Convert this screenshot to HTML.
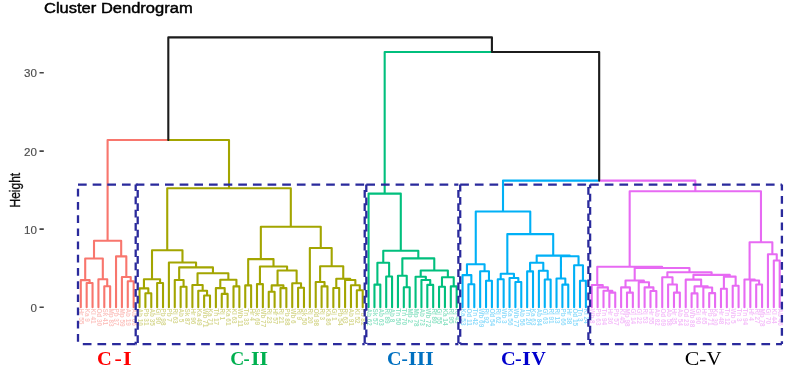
<!DOCTYPE html>
<html><head><meta charset="utf-8"><style>
html,body{margin:0;padding:0;background:#fff;}
body{width:789px;height:370px;overflow:hidden;position:relative;}
svg{position:absolute;left:0;top:0;}
</style></head><body>
<svg width="789" height="370" viewBox="0 0 789 370">
<defs><filter id="bl" x="0" y="0" width="789" height="370" filterUnits="userSpaceOnUse"><feGaussianBlur stdDeviation="0.5"/></filter></defs>
<rect width="789" height="370" fill="#fff"/>
<g filter="url(#bl)">
<text x="44" y="13" transform="translate(44 0) scale(1.14 1) translate(-44 0)" font-family="Liberation Sans, sans-serif" font-size="14.5" fill="#000" stroke="#000" stroke-width="0.45">Cluster Dendrogram</text>
<g font-family="Liberation Sans, sans-serif" font-size="11.6" fill="#4d4d4d" stroke="#4d4d4d" stroke-width="0.15" text-anchor="end">
<text x="37" y="77.4">30</text>
<text x="37" y="155.8">20</text>
<text x="37" y="233.8">10</text>
<text x="37" y="311.9">0</text>
</g>
<g stroke="#444" stroke-width="1.6">
<path d="M39.5 72.7H43.8M39.5 151.1H43.8M39.5 229.1H43.8M39.5 307.2H43.8"/>
</g>
<text transform="translate(19.6 190.2) rotate(-90) scale(1 1.16)" font-family="Liberation Sans, sans-serif" font-size="12" fill="#111" stroke="#111" stroke-width="0.3" text-anchor="middle">Height</text>
<g font-family="Liberation Sans, sans-serif" font-size="6.4" font-weight="bold" opacity="0.42">
<text transform="translate(79.2 308.4) rotate(90)" fill="#F8766D">Hr 55</text>
<text transform="translate(85.07 308.4) rotate(90)" fill="#F8766D">Ka 9</text>
<text transform="translate(90.95 308.4) rotate(90)" fill="#F8766D">Kl 41</text>
<text transform="translate(96.82 308.4) rotate(90)" fill="#F8766D">Od 30</text>
<text transform="translate(102.69 308.4) rotate(90)" fill="#F8766D">Sk 41</text>
<text transform="translate(108.56 308.4) rotate(90)" fill="#F8766D">Mp 83</text>
<text transform="translate(114.44 308.4) rotate(90)" fill="#F8766D">Pb 37</text>
<text transform="translate(120.31 308.4) rotate(90)" fill="#F8766D">Mp 59</text>
<text transform="translate(126.18 308.4) rotate(90)" fill="#F8766D">Ab 19</text>
<text transform="translate(132.06 308.4) rotate(90)" fill="#F8766D">Ab 66</text>
<text transform="translate(137.93 308.4) rotate(90)" fill="#A3A500">Ab 10</text>
<text transform="translate(143.8 308.4) rotate(90)" fill="#A3A500">Pb 31</text>
<text transform="translate(149.68 308.4) rotate(90)" fill="#A3A500">Ab 35</text>
<text transform="translate(155.55 308.4) rotate(90)" fill="#A3A500">Gj 90</text>
<text transform="translate(161.42 308.4) rotate(90)" fill="#A3A500">Pb 98</text>
<text transform="translate(167.29 308.4) rotate(90)" fill="#A3A500">Pb 7</text>
<text transform="translate(173.17 308.4) rotate(90)" fill="#A3A500">Rj 63</text>
<text transform="translate(179.04 308.4) rotate(90)" fill="#A3A500">Ab 5</text>
<text transform="translate(184.91 308.4) rotate(90)" fill="#A3A500">Sk 87</text>
<text transform="translate(190.79 308.4) rotate(90)" fill="#A3A500">Hr 96</text>
<text transform="translate(196.66 308.4) rotate(90)" fill="#A3A500">Ka 49</text>
<text transform="translate(202.53 308.4) rotate(90)" fill="#A3A500">Wb 71</text>
<text transform="translate(208.41 308.4) rotate(90)" fill="#A3A500">Ka 71</text>
<text transform="translate(214.28 308.4) rotate(90)" fill="#A3A500">Tn 17</text>
<text transform="translate(220.15 308.4) rotate(90)" fill="#A3A500">Rj 1</text>
<text transform="translate(226.03 308.4) rotate(90)" fill="#A3A500">Ka 61</text>
<text transform="translate(231.9 308.4) rotate(90)" fill="#A3A500">Kl 63</text>
<text transform="translate(237.77 308.4) rotate(90)" fill="#A3A500">Wb 11</text>
<text transform="translate(243.64 308.4) rotate(90)" fill="#A3A500">Tn 33</text>
<text transform="translate(249.52 308.4) rotate(90)" fill="#A3A500">Hr 4</text>
<text transform="translate(255.39 308.4) rotate(90)" fill="#A3A500">Sk 69</text>
<text transform="translate(261.26 308.4) rotate(90)" fill="#A3A500">Wb 77</text>
<text transform="translate(267.14 308.4) rotate(90)" fill="#A3A500">Rj 23</text>
<text transform="translate(273.01 308.4) rotate(90)" fill="#A3A500">Hr 57</text>
<text transform="translate(278.88 308.4) rotate(90)" fill="#A3A500">Rj 21</text>
<text transform="translate(284.75 308.4) rotate(90)" fill="#A3A500">Pb 88</text>
<text transform="translate(290.63 308.4) rotate(90)" fill="#A3A500">Wb 6</text>
<text transform="translate(296.5 308.4) rotate(90)" fill="#A3A500">Rj 9</text>
<text transform="translate(302.37 308.4) rotate(90)" fill="#A3A500">Sk 50</text>
<text transform="translate(308.25 308.4) rotate(90)" fill="#A3A500">Rj 20</text>
<text transform="translate(314.12 308.4) rotate(90)" fill="#A3A500">Od 98</text>
<text transform="translate(319.99 308.4) rotate(90)" fill="#A3A500">Rj 3</text>
<text transform="translate(325.87 308.4) rotate(90)" fill="#A3A500">Ka 86</text>
<text transform="translate(331.74 308.4) rotate(90)" fill="#A3A500">Gj 1</text>
<text transform="translate(337.61 308.4) rotate(90)" fill="#A3A500">Pb 54</text>
<text transform="translate(343.49 308.4) rotate(90)" fill="#A3A500">Rj 63</text>
<text transform="translate(349.36 308.4) rotate(90)" fill="#A3A500">Ab 91</text>
<text transform="translate(355.23 308.4) rotate(90)" fill="#A3A500">Kl 52</text>
<text transform="translate(361.1 308.4) rotate(90)" fill="#A3A500">Pb 82</text>
<text transform="translate(366.98 308.4) rotate(90)" fill="#00BF7D">Ab 62</text>
<text transform="translate(372.85 308.4) rotate(90)" fill="#00BF7D">Sk 57</text>
<text transform="translate(378.72 308.4) rotate(90)" fill="#00BF7D">Ab 63</text>
<text transform="translate(384.6 308.4) rotate(90)" fill="#00BF7D">Rj 89</text>
<text transform="translate(390.47 308.4) rotate(90)" fill="#00BF7D">Ab 8</text>
<text transform="translate(396.34 308.4) rotate(90)" fill="#00BF7D">Tn 50</text>
<text transform="translate(402.21 308.4) rotate(90)" fill="#00BF7D">Tn 70</text>
<text transform="translate(408.09 308.4) rotate(90)" fill="#00BF7D">Mp 2</text>
<text transform="translate(413.96 308.4) rotate(90)" fill="#00BF7D">Mp 78</text>
<text transform="translate(419.83 308.4) rotate(90)" fill="#00BF7D">Ab 73</text>
<text transform="translate(425.71 308.4) rotate(90)" fill="#00BF7D">Wb 72</text>
<text transform="translate(431.58 308.4) rotate(90)" fill="#00BF7D">Rj 80</text>
<text transform="translate(437.45 308.4) rotate(90)" fill="#00BF7D">Gj 55</text>
<text transform="translate(443.33 308.4) rotate(90)" fill="#00BF7D">Ka 14</text>
<text transform="translate(449.2 308.4) rotate(90)" fill="#00BF7D">Rj 95</text>
<text transform="translate(455.07 308.4) rotate(90)" fill="#00BF7D">Rj 43</text>
<text transform="translate(460.94 308.4) rotate(90)" fill="#00B0F6">Ka 53</text>
<text transform="translate(466.82 308.4) rotate(90)" fill="#00B0F6">Od 11</text>
<text transform="translate(472.69 308.4) rotate(90)" fill="#00B0F6">Tn 42</text>
<text transform="translate(478.56 308.4) rotate(90)" fill="#00B0F6">Wb 69</text>
<text transform="translate(484.44 308.4) rotate(90)" fill="#00B0F6">Rj 92</text>
<text transform="translate(490.31 308.4) rotate(90)" fill="#00B0F6">Od 54</text>
<text transform="translate(496.18 308.4) rotate(90)" fill="#00B0F6">Rj 62</text>
<text transform="translate(502.06 308.4) rotate(90)" fill="#00B0F6">Wb 3</text>
<text transform="translate(507.93 308.4) rotate(90)" fill="#00B0F6">Ka 56</text>
<text transform="translate(513.8 308.4) rotate(90)" fill="#00B0F6">Wb 77</text>
<text transform="translate(519.67 308.4) rotate(90)" fill="#00B0F6">Ab 56</text>
<text transform="translate(525.55 308.4) rotate(90)" fill="#00B0F6">Tn 20</text>
<text transform="translate(531.42 308.4) rotate(90)" fill="#00B0F6">Ka 63</text>
<text transform="translate(537.29 308.4) rotate(90)" fill="#00B0F6">Ab 84</text>
<text transform="translate(543.17 308.4) rotate(90)" fill="#00B0F6">Gj 63</text>
<text transform="translate(549.04 308.4) rotate(90)" fill="#00B0F6">Rj 91</text>
<text transform="translate(554.91 308.4) rotate(90)" fill="#00B0F6">Rj 13</text>
<text transform="translate(560.79 308.4) rotate(90)" fill="#00B0F6">Pb 66</text>
<text transform="translate(566.66 308.4) rotate(90)" fill="#00B0F6">Hr 38</text>
<text transform="translate(572.53 308.4) rotate(90)" fill="#00B0F6">Od 15</text>
<text transform="translate(578.4 308.4) rotate(90)" fill="#00B0F6">Tn 3</text>
<text transform="translate(584.28 308.4) rotate(90)" fill="#00B0F6">Kl 24</text>
<text transform="translate(590.15 308.4) rotate(90)" fill="#E76BF3">Wb 8</text>
<text transform="translate(596.02 308.4) rotate(90)" fill="#E76BF3">Pb 63</text>
<text transform="translate(601.9 308.4) rotate(90)" fill="#E76BF3">Tn 94</text>
<text transform="translate(607.77 308.4) rotate(90)" fill="#E76BF3">Hr 36</text>
<text transform="translate(613.64 308.4) rotate(90)" fill="#E76BF3">Pb 57</text>
<text transform="translate(619.52 308.4) rotate(90)" fill="#E76BF3">Kl 45</text>
<text transform="translate(625.39 308.4) rotate(90)" fill="#E76BF3">Mp 98</text>
<text transform="translate(631.26 308.4) rotate(90)" fill="#E76BF3">Gj 14</text>
<text transform="translate(637.13 308.4) rotate(90)" fill="#E76BF3">Gj 22</text>
<text transform="translate(643.01 308.4) rotate(90)" fill="#E76BF3">Rj 53</text>
<text transform="translate(648.88 308.4) rotate(90)" fill="#E76BF3">Hr 55</text>
<text transform="translate(654.75 308.4) rotate(90)" fill="#E76BF3">Ab 82</text>
<text transform="translate(660.63 308.4) rotate(90)" fill="#E76BF3">Od 69</text>
<text transform="translate(666.5 308.4) rotate(90)" fill="#E76BF3">Ab 58</text>
<text transform="translate(672.37 308.4) rotate(90)" fill="#E76BF3">Hr 35</text>
<text transform="translate(678.25 308.4) rotate(90)" fill="#E76BF3">Ab 54</text>
<text transform="translate(684.12 308.4) rotate(90)" fill="#E76BF3">Od 23</text>
<text transform="translate(689.99 308.4) rotate(90)" fill="#E76BF3">Wb 88</text>
<text transform="translate(695.87 308.4) rotate(90)" fill="#E76BF3">Gj 90</text>
<text transform="translate(701.74 308.4) rotate(90)" fill="#E76BF3">Hr 65</text>
<text transform="translate(707.61 308.4) rotate(90)" fill="#E76BF3">Pb 71</text>
<text transform="translate(713.48 308.4) rotate(90)" fill="#E76BF3">Ka 30</text>
<text transform="translate(719.36 308.4) rotate(90)" fill="#E76BF3">Hr 48</text>
<text transform="translate(725.23 308.4) rotate(90)" fill="#E76BF3">Tn 12</text>
<text transform="translate(731.1 308.4) rotate(90)" fill="#E76BF3">Wb 5</text>
<text transform="translate(736.98 308.4) rotate(90)" fill="#E76BF3">Tn 3</text>
<text transform="translate(742.85 308.4) rotate(90)" fill="#E76BF3">Tn 94</text>
<text transform="translate(748.72 308.4) rotate(90)" fill="#E76BF3">Hr 4</text>
<text transform="translate(754.59 308.4) rotate(90)" fill="#E76BF3">Rj 27</text>
<text transform="translate(760.47 308.4) rotate(90)" fill="#E76BF3">Mp 78</text>
<text transform="translate(766.34 308.4) rotate(90)" fill="#E76BF3">Gj 70</text>
<text transform="translate(772.21 308.4) rotate(90)" fill="#E76BF3">Kl 44</text>
<text transform="translate(778.09 308.4) rotate(90)" fill="#E76BF3">Ab 46</text>
</g>
<g fill="none" stroke-width="2.1" stroke-linecap="round">
<path stroke="#F8766D" d="M94.01 240.8V258.5M121.18 240.8V256.4M94.01 240.8H121.18M85.2 258.5V280.1M102.82 258.5V279.3M85.2 258.5H102.82M80.8 280.1V307.3M89.61 280.1V283M80.8 280.1H89.61M86.67 283V307.3M92.55 283V307.3M86.67 283H92.55M98.42 279.3V307.3M107.23 279.3V286.3M98.42 279.3H107.23M104.29 286.3V307.3M110.16 286.3V307.3M104.29 286.3H110.16M116.04 256.4V307.3M126.32 256.4V277M116.04 256.4H126.32M121.91 277V307.3M130.72 277V281.2M121.91 277H130.72M127.78 281.2V307.3M133.66 281.2V307.3M127.78 281.2H133.66M107.6 140H168.31M107.6 140V240.8"/>
<path stroke="#A3A500" d="M167.24 188.3V250.3M290.81 188.3V226.7M167.24 188.3H290.81M152.01 250.3V279.2M182.48 250.3V262.5M152.01 250.3H182.48M143.93 279.2V288.4M160.09 279.2V283M143.93 279.2H160.09M139.53 288.4V307.3M148.34 288.4V293.2M139.53 288.4H148.34M145.4 293.2V307.3M151.28 293.2V307.3M145.4 293.2H151.28M157.15 283V307.3M163.02 283V307.3M157.15 283H163.02M168.89 262.5V307.3M196.06 262.5V267.4M168.89 262.5H196.06M179.17 267.4V280M212.94 267.4V273.2M179.17 267.4H212.94M174.77 280V307.3M183.58 280V286.8M174.77 280H183.58M180.64 286.8V307.3M186.51 286.8V307.3M180.64 286.8H186.51M197.53 273.2V285M228.36 273.2V279.7M197.53 273.2H228.36M192.39 285V307.3M202.66 285V290.8M192.39 285H202.66M198.26 290.8V307.3M207.07 290.8V295.5M198.26 290.8H207.07M204.13 295.5V307.3M210.01 295.5V307.3M204.13 295.5H210.01M220.28 279.7V288.1M236.43 279.7V286.4M220.28 279.7H236.43M215.88 288.1V307.3M224.69 288.1V293.9M215.88 288.1H224.69M221.75 293.9V307.3M227.62 293.9V307.3M221.75 293.9H227.62M233.5 286.4V307.3M239.37 286.4V307.3M233.5 286.4H239.37M260.84 226.7V259.1M320.77 226.7V248M260.84 226.7H320.77M248.18 259.1V285.4M273.51 259.1V266.5M248.18 259.1H273.51M245.24 285.4V307.3M251.12 285.4V307.3M245.24 285.4H251.12M259.93 266.5V284.1M287.09 266.5V270.5M259.93 266.5H287.09M256.99 284.1V307.3M262.86 284.1V307.3M256.99 284.1H262.86M277.55 270.5V285.4M296.63 270.5V283.3M277.55 270.5H296.63M271.67 285.4V291.8M283.42 285.4V288.1M271.67 285.4H283.42M268.74 291.8V307.3M274.61 291.8V307.3M268.74 291.8H274.61M280.48 288.1V307.3M286.36 288.1V307.3M280.48 288.1H286.36M292.23 283.3V307.3M301.04 283.3V287.8M292.23 283.3H301.04M298.1 287.8V307.3M303.97 287.8V307.3M298.1 287.8H303.97M309.85 248V307.3M331.69 248V266.3M309.85 248H331.69M320.12 266.3V282M343.25 266.3V278.8M320.12 266.3H343.25M315.72 282V307.3M324.53 282V286.4M315.72 282H324.53M321.59 286.4V307.3M327.47 286.4V307.3M321.59 286.4H327.47M336.28 278.8V288M350.22 278.8V280M336.28 278.8H350.22M333.34 288V307.3M339.21 288V307.3M333.34 288H339.21M345.09 280V307.3M355.36 280V285.3M345.09 280H355.36M350.96 285.3V307.3M359.77 285.3V290.2M350.96 285.3H359.77M356.83 290.2V307.3M362.7 290.2V307.3M356.83 290.2H362.7M168.31 140H229.02M229.02 140V188.3"/>
<path stroke="#00BF7D" d="M368.58 193.6V307.3M400.79 193.6V250.8M368.58 193.6H400.79M383.26 250.8V262.7M418.31 250.8V258.4M383.26 250.8H418.31M377.39 262.7V284.6M389.13 262.7V276.5M377.39 262.7H389.13M374.45 284.6V307.3M380.32 284.6V307.3M374.45 284.6H380.32M386.2 276.5V307.3M392.07 276.5V307.3M386.2 276.5H392.07M402.35 258.4V275.8M434.28 258.4V270.5M402.35 258.4H434.28M397.94 275.8V307.3M406.75 275.8V287.3M397.94 275.8H406.75M403.81 287.3V307.3M409.69 287.3V307.3M403.81 287.3H409.69M420.7 270.5V276.8M447.86 270.5V277.2M420.7 270.5H447.86M415.56 276.8V307.3M425.84 276.8V280M415.56 276.8H425.84M421.43 280V307.3M430.24 280V284.9M421.43 280H430.24M427.31 284.9V307.3M433.18 284.9V307.3M427.31 284.9H433.18M441.99 277.2V286.8M453.74 277.2V286.4M441.99 277.2H453.74M439.05 286.8V307.3M444.93 286.8V307.3M439.05 286.8H444.93M450.8 286.4V307.3M456.67 286.4V307.3M450.8 286.4H456.67M384.68 52H491.92M384.68 52V193.6"/>
<path stroke="#00B0F6" d="M475.76 211.5V264.2M530.27 211.5V234.1M475.76 211.5H530.27M466.95 264.2V275.1M484.57 264.2V271.2M466.95 264.2H484.57M462.55 275.1V307.3M471.35 275.1V284.2M462.55 275.1H471.35M468.42 284.2V307.3M474.29 284.2V307.3M468.42 284.2H474.29M480.16 271.2V307.3M488.97 271.2V280.7M480.16 271.2H488.97M486.04 280.7V307.3M491.91 280.7V307.3M486.04 280.7H491.91M507.33 234.1V273.7M553.21 234.1V255.6M507.33 234.1H553.21M500.72 273.7V279.3M513.93 273.7V278M500.72 273.7H513.93M497.78 279.3V307.3M503.66 279.3V307.3M497.78 279.3H503.66M509.53 278V307.3M518.34 278V282M509.53 278H518.34M515.4 282V307.3M521.27 282V307.3M515.4 282H521.27M536.69 255.6V262.7M569.73 255.6V256.2M536.69 255.6H569.73M530.08 262.7V271.4M543.3 262.7V270.8M530.08 262.7H543.3M527.15 271.4V307.3M533.02 271.4V307.3M527.15 271.4H533.02M538.89 270.8V307.3M547.7 270.8V279.5M538.89 270.8H547.7M544.77 279.5V307.3M550.64 279.5V307.3M544.77 279.5H550.64M560.92 256.2V278.5M578.54 256.2V265.3M560.92 256.2H578.54M556.51 278.5V307.3M565.32 278.5V284.6M556.51 278.5H565.32M562.39 284.6V307.3M568.26 284.6V307.3M562.39 284.6H568.26M574.13 265.3V307.3M582.94 265.3V280.7M574.13 265.3H582.94M580 280.7V307.3M585.88 280.7V307.3M580 280.7H585.88M503.01 180.6H599.17M503.01 180.6V211.5"/>
<path stroke="#E76BF3" d="M629.67 191.2V266.8M760.97 191.2V242.2M629.67 191.2H760.97M597.26 266.8V285M662.09 266.8V268M597.26 266.8H662.09M591.75 285V307.3M602.76 285V287.4M591.75 285H602.76M597.62 287.4V307.3M607.9 287.4V290.8M597.62 287.4H607.9M603.5 290.8V307.3M612.31 290.8V292.6M603.5 290.8H612.31M609.37 292.6V307.3M615.24 292.6V307.3M609.37 292.6H615.24M634.7 268V280.5M689.48 268V272.2M634.7 268H689.48M625.52 280.5V287.4M643.87 280.5V282.2M625.52 280.5H643.87M621.12 287.4V307.3M629.93 287.4V292.6M621.12 287.4H629.93M626.99 292.6V307.3M632.86 292.6V307.3M626.99 292.6H632.86M638.74 282.2V307.3M649.01 282.2V287.4M638.74 282.2H649.01M644.61 287.4V307.3M653.42 287.4V291M644.61 287.4H653.42M650.48 291V307.3M656.35 291V307.3M650.48 291H656.35M667.37 272.2V277.3M711.6 272.2V274.9M667.37 272.2H711.6M662.23 277.3V307.3M672.5 277.3V284.5M662.23 277.3H672.5M668.1 284.5V307.3M676.91 284.5V292.6M668.1 284.5H676.91M673.97 292.6V307.3M679.85 292.6V307.3M673.97 292.6H679.85M693.43 274.9V279.6M729.77 274.9V276.6M693.43 274.9H729.77M685.72 279.6V307.3M701.14 279.6V286.4M685.72 279.6H701.14M694.53 286.4V293.4M707.74 286.4V287.5M694.53 286.4H707.74M691.59 293.4V307.3M697.47 293.4V307.3M691.59 293.4H697.47M703.34 287.5V307.3M712.15 287.5V293.1M703.34 287.5H712.15M709.21 293.1V307.3M715.08 293.1V307.3M709.21 293.1H715.08M723.89 276.6V288.8M735.64 276.6V285.8M723.89 276.6H735.64M720.96 288.8V307.3M726.83 288.8V307.3M720.96 288.8H726.83M732.7 285.8V307.3M738.58 285.8V307.3M732.7 285.8H738.58M749.59 242.2V279.5M772.35 242.2V254.2M749.59 242.2H772.35M744.45 279.5V307.3M754.73 279.5V280.5M744.45 279.5H754.73M750.32 280.5V307.3M759.13 280.5V284.5M750.32 280.5H759.13M756.19 284.5V307.3M762.07 284.5V307.3M756.19 284.5H762.07M767.94 254.2V307.3M776.75 254.2V260.5M767.94 254.2H776.75M773.81 260.5V307.3M779.69 260.5V307.3M773.81 260.5H779.69M599.17 180.6H695.32M695.32 180.6V191.2"/>
<path stroke="#1a1a1a" d="M491.92 52H599.17M599.17 52V180.6M168.31 37.4H330.12M330.12 37.4H491.92M168.31 37.4V140M491.92 37.4V52"/>
</g>
<g fill="none" stroke="#2a2a9c" stroke-width="2.1">
<path stroke-dasharray="8.7 5.95" stroke-dashoffset="0" d="M78 184.6H137.7"/>
<path stroke-dasharray="8.7 5.95" stroke-dashoffset="9.85" d="M78 344.1H137.7"/>
<path stroke-width="2.3" stroke-dasharray="7.7 5.5" stroke-dashoffset="9" d="M78 184.6V344.1"/>
<path stroke-width="2.3" stroke-dasharray="7.7 5.5" stroke-dashoffset="7.7" d="M137.7 184.6V344.1"/>
<path stroke-dasharray="8.7 5.95" stroke-dashoffset="0" d="M135.7 184.6H364.7"/>
<path stroke-dasharray="8.7 5.95" stroke-dashoffset="7.8" d="M135.7 344.1H364.7"/>
<path stroke-width="2.3" stroke-dasharray="7.7 5.5" stroke-dashoffset="1.2" d="M135.7 184.6V344.1"/>
<path stroke-width="2.3" stroke-dasharray="7.7 5.5" stroke-dashoffset="7.7" d="M364.7 184.6V344.1"/>
<path stroke-dasharray="8.7 5.95" stroke-dashoffset="0" d="M366.3 184.6H458.4"/>
<path stroke-dasharray="8.7 5.95" stroke-dashoffset="13.65" d="M366.3 344.1H458.4"/>
<path stroke-width="2.3" stroke-dasharray="7.7 5.5" stroke-dashoffset="0.3" d="M366.3 184.6V344.1"/>
<path stroke-width="2.3" stroke-dasharray="7.7 5.5" stroke-dashoffset="7.7" d="M458.4 184.6V344.1"/>
<path stroke-dasharray="8.7 5.95" stroke-dashoffset="0" d="M460.2 184.6H588.4"/>
<path stroke-dasharray="8.7 5.95" stroke-dashoffset="1.05" d="M460.2 344.1H588.4"/>
<path stroke-width="2.3" stroke-dasharray="7.7 5.5" stroke-dashoffset="0.7" d="M460.2 184.6V344.1"/>
<path stroke-width="2.3" stroke-dasharray="7.7 5.5" stroke-dashoffset="10.8" d="M588.4 184.6V344.1"/>
<path stroke-dasharray="8.7 5.95" stroke-dashoffset="0" d="M590.1 184.6H781.9"/>
<path stroke-dasharray="8.7 5.95" stroke-dashoffset="4.5" d="M590.1 344.1H781.9"/>
<path stroke-width="2.3" stroke-dasharray="7.7 5.5" stroke-dashoffset="4" d="M590.1 184.6V344.1"/>
<path stroke-width="2.3" stroke-dasharray="7.7 5.5" stroke-dashoffset="1.7" d="M781.9 184.6V344.1"/>
</g>
<g font-family="Liberation Serif, serif" font-size="18.5">
<text x="0" y="365.3" fill="#ff0000" font-weight="bold" transform="translate(96.99 0) scale(1.11 1)">C</text>
<text x="0" y="365.3" fill="#ff0000" font-weight="bold" transform="translate(114.52 0) scale(1.18 1)">-</text>
<text x="0" y="365.3" fill="#ff0000" font-weight="bold" transform="translate(123.03 0) scale(1.18 1)">I</text>
<text x="0" y="365.3" fill="#00b050" font-weight="bold" transform="translate(230.35 0) scale(1.05 1)">C</text>
<text x="0" y="365.3" fill="#00b050" font-weight="bold" transform="translate(243.6 0) scale(1 1)">-</text>
<text x="0" y="365.3" fill="#00b050" font-weight="bold" transform="translate(250.95 0) scale(1.18 1)">II</text>
<text x="0" y="365.3" fill="#0070c0" font-weight="bold" transform="translate(387.01 0) scale(1.09 1)">C</text>
<text x="0" y="365.3" fill="#0070c0" font-weight="bold" transform="translate(401.48 0) scale(1.02 1)">-</text>
<text x="0" y="365.3" fill="#0070c0" font-weight="bold" transform="translate(408.37 0) scale(1.18 1)">III</text>
<text x="0" y="365.3" fill="#0000cc" font-weight="bold" transform="translate(501 0) scale(1.1 1)">C</text>
<text x="0" y="365.3" fill="#0000cc" font-weight="bold" transform="translate(515.12 0) scale(1.08 1)">-</text>
<text x="0" y="365.3" fill="#0000cc" font-weight="bold" transform="translate(522.33 0) scale(1.18 1)">I</text>
<text x="0" y="365.3" fill="#0000cc" font-weight="bold" transform="translate(531.4 0) scale(1.07 1)">V</text>
<text x="0" y="365.3" fill="#000000" font-weight="normal" transform="translate(684.87 0) scale(1.18 1)">C</text>
<text x="0" y="365.3" fill="#000000" font-weight="normal" transform="translate(699.16 0) scale(1.14 1)">-</text>
<text x="0" y="365.3" fill="#000000" font-weight="normal" transform="translate(706.58 0) scale(1.12 1)">V</text>
</g></g>
</svg>
</body></html>
